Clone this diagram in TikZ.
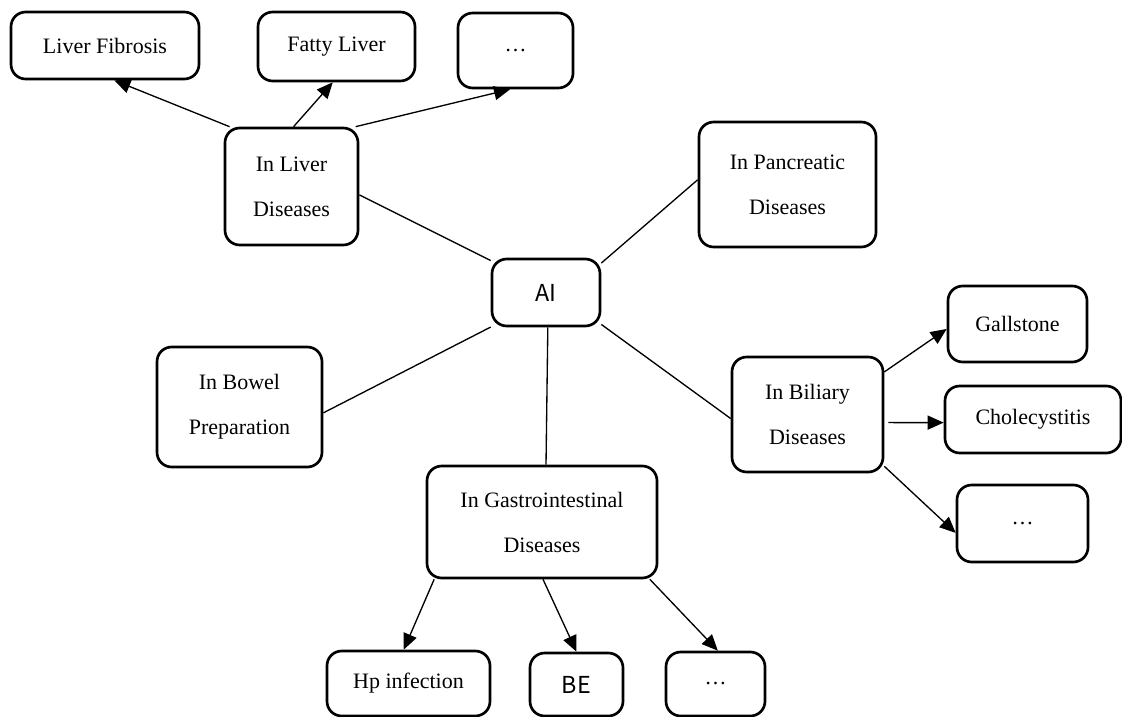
\documentclass[tikz,border=0pt]{standalone}
\usepackage{fontspec}
\setmainfont{Liberation Serif}
\newfontfamily\aifont{Noto Sans CJK SC}
\usetikzlibrary{arrows.meta}
\def\Px{0.75pt}
\tikzset{
  topic/.style 2 args={draw, line width=2pt, rounded corners=11pt, inner sep=0pt,
    align=center, minimum width=#1*\Px, minimum height=#2*\Px,
    font=\fontsize{16.5}{33.75}\selectfont},
  sanstext/.style={font=\aifont\fontsize{17.5}{20}\selectfont},
  link/.style={line width=1pt},
  arrowlink/.style={line width=1pt, -{Triangle[length=12pt,width=10.5pt]}}
}

\begin{document}
\begin{tikzpicture}[x=0.75pt,y=-0.75pt]
\useasboundingbox (0,0) rectangle (1122,717);
% centre
\node[topic={108}{67},sanstext] (ai) at (546,292.5) {AI};
% fields
\node[topic={133}{117}] (liver) at (291.5,186.5) {In Liver\\Diseases};
\node[topic={177}{125}] (panc) at (787.5,184.5) {In Pancreatic\\Diseases};
\node[topic={165}{120}] (bowel) at (239.5,407) {In Bowel\\Preparation};
\node[topic={151}{115}] (bil) at (807.5,414.5) {In Biliary\\Diseases};
\node[topic={230}{112}] (gi) at (542,522) {In Gastrointestinal\\Diseases};
% liver
\node[topic={188}{67}] (fib) at (105,45.5) {Liver Fibrosis};
\node[topic={157}{69}] (fat) at (336.5,46.5) {Fatty Liver};
\node[topic={115}{75}] (dotsa) at (515.5,50.5) {…};
% biliary
\node[topic={139}{76}] (gall) at (1017.5,324) {Gallstone};
\node[topic={176}{67}] (chol) at (1033,419.5) {Cholecystitis};
\node[topic={131}{77}] (dotsb) at (1022.5,523.5) {…};
% gastrointestinal
\node[topic={163}{65}] (hp) at (408.5,683.5) {Hp infection};
\node[topic={93}{63},sanstext] (be) at (576.5,684.5) {BE};
\node[topic={99}{64}] (dotsc) at (715.5,684) {…};

\draw[link] (ai.150) -- (liver.-7);
\draw[link] (ai.28) -- (panc.177);
\draw[link] (ai.212) -- (bowel.-4);
\draw[link] (ai.-87) -- (gi.86);
\draw[link] (ai.-30) -- (bil.183);

\draw[arrowlink] (liver.136) -- (fib.-75);
\draw[arrowlink] (liver.88) -- (fat.-96);
\draw[arrowlink] (liver.43) -- (dotsa.-98);
\draw[arrowlink] (bil.29) -- (gall.184);
\draw[arrowlink,shorten <=3pt] (bil.-6) -- (chol.182);
\draw[arrowlink] (bil.-34) -- (dotsb.188);
\draw[arrowlink] (gi.208) -- (hp.98);
\draw[arrowlink] (gi.-89) -- (be.north);
\draw[arrowlink] (gi.-28) -- (dotsc.86);
\end{tikzpicture}
\end{document}
